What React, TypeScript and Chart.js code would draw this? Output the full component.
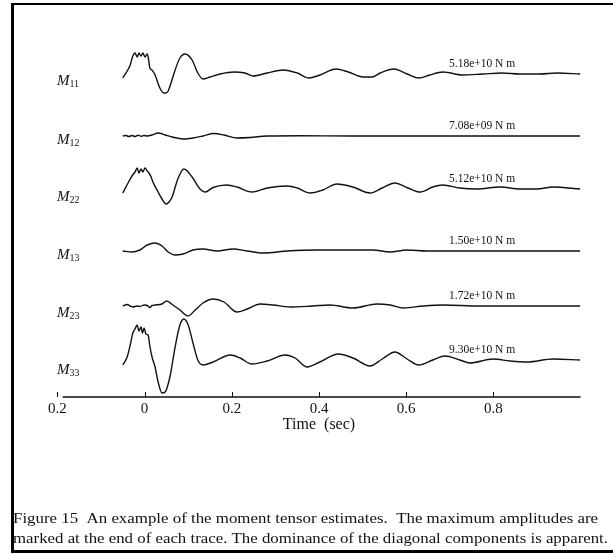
import React, { useEffect, useRef } from "react";
import { Chart, registerables } from "chart.js";

Chart.register(...registerables);

// ---------- data ----------
const componentNames = ["11", "12", "22", "13", "23", "33"];
const maxAmplitudes = [
  "5.18e+10 N m",
  "7.08e+09 N m",
  "5.12e+10 N m",
  "1.50e+10 N m",
  "1.72e+10 N m",
  "9.30e+10 N m",
];
const tickValues = [-0.2, 0, 0.2, 0.4, 0.6, 0.8];
const tickLabels = ["0.2", "0", "0.2", "0.4", "0.6", "0.8"];

// normalised trace amplitudes (upward positive)
const m11Time = [-0.05, -0.04, -0.033, -0.027, -0.022, -0.017, -0.013, -0.008, -0.004, 0.001, 0.006, 0.009, 0.012, 0.017, 0.024, 0.035, 0.044, 0.049, 0.054, 0.07, 0.081, 0.093, 0.109, 0.122, 0.134, 0.15, 0.173, 0.205, 0.23, 0.249, 0.281, 0.318, 0.35, 0.377, 0.402, 0.439, 0.467, 0.501, 0.522, 0.54, 0.572, 0.602, 0.629, 0.654, 0.684, 0.73, 0.776, 0.819, 0.861, 0.906, 0.946, 0.999];
const m11Value = [-4, 3, 9, 18, 21, 17, 21, 18, 21, 17, 20, 15, 6, 4, -1, -14, -19, -19, -17, 4, 16, 20, 14, 1, -5, -3, 0, 2, 1, -2, 1, 4, 1, -4, -1, 5, 2, -3, -3, 1, 5, 0, -4, -1, 2, -1, 0, 1, 0, 0, 1, 0];

const m12Time = [-0.05, -0.043, -0.036, -0.029, -0.022, -0.015, -0.008, -0.001, 0.006, 0.017, 0.031, 0.047, 0.063, 0.088, 0.111, 0.134, 0.159, 0.182, 0.212, 0.242, 0.281, 0.356, 0.471, 0.586, 0.701, 0.815, 0.999];
const m12Value = [0, 0.5, -0.5, 0.5, -0.5, 0.8, -0.3, 0.5, 0, 1, 3, 1, -1, -3, -2, 0, 2.5, 1, -2, -1.5, 0, 0.3, 0, 0, 0, 0, 0];

const m22Time = [-0.05, -0.038, -0.029, -0.022, -0.017, -0.013, -0.008, -0.004, 0.001, 0.006, 0.01, 0.015, 0.019, 0.031, 0.04, 0.049, 0.056, 0.063, 0.077, 0.09, 0.109, 0.127, 0.139, 0.157, 0.189, 0.212, 0.246, 0.281, 0.327, 0.35, 0.38, 0.409, 0.441, 0.478, 0.517, 0.545, 0.574, 0.604, 0.632, 0.661, 0.684, 0.723, 0.762, 0.815, 0.861, 0.9, 0.937, 0.999];
const m22Value = [-4, 6, 13, 17, 21, 16, 20, 17, 21, 18, 16, 12, 7, -3, -10, -15, -13, -8, 11, 20, 12, 0, -3, 1.5, 4, 2, -3, 1, 3, 1, -4, -1, 5, 2, -4, 1, 6, 1, -3, 2, 4, 1, 0, 2, 0, 0, 2, 0];

const m13Time = [-0.05, -0.029, -0.011, 0.006, 0.024, 0.04, 0.054, 0.07, 0.088, 0.111, 0.134, 0.166, 0.203, 0.235, 0.272, 0.327, 0.396, 0.471, 0.524, 0.563, 0.602, 0.648, 0.769, 0.884, 0.999];
const m13Value = [0, -1, 1, 6, 8, 5, -1, -4, -3, 1, 2, 0, 2, 0, -2, 0, 1, 1, 1, -1, 1, 0, 0, 0, 0];

const m23Time = [-0.05, -0.04, -0.033, -0.027, -0.017, -0.011, -0.001, 0.006, 0.012, 0.017, 0.024, 0.04, 0.051, 0.065, 0.081, 0.1, 0.116, 0.134, 0.157, 0.182, 0.212, 0.235, 0.265, 0.295, 0.333, 0.386, 0.425, 0.478, 0.533, 0.563, 0.593, 0.639, 0.684, 0.769, 0.884, 0.999];
const m23Value = [0, 1.5, 0, -1, 0, -0.5, 1, 0.5, -1.5, 0.5, 1, 2, 5, 1, -4, -10, -4, 3, 7, 4, -6, -3, 2, 1, -1, 0, 1, -2, 2, 1, -2, 0, 1, 0, 0, 0];

const m33Time = [-0.05, -0.04, -0.033, -0.027, -0.022, -0.017, -0.013, -0.008, -0.005, -0.001, 0.003, 0.008, 0.012, 0.017, 0.024, 0.031, 0.04, 0.047, 0.058, 0.07, 0.081, 0.09, 0.1, 0.111, 0.122, 0.134, 0.157, 0.196, 0.219, 0.246, 0.281, 0.322, 0.345, 0.373, 0.402, 0.444, 0.478, 0.517, 0.545, 0.574, 0.602, 0.629, 0.661, 0.689, 0.723, 0.746, 0.799, 0.838, 0.877, 0.937, 0.999];
const m33Value = [-5, 3, 15, 27, 31, 35, 29, 33, 27, 32, 26, 25, 14, 3, -7, -22, -33, -32, -17, 13, 35, 41, 35, 17, 0, -5, -2, 5, 2, -4, -1, 5, 2, -7, -2, 6, 2, -6, 1, 8, 1, -5, 0, 4, 0, -3, 1, -1, -2, 1, 0];

const traceTimes = [m11Time, m12Time, m22Time, m13Time, m23Time, m33Time];
const traceValues = [m11Value, m12Value, m22Value, m13Value, m23Value, m33Value];

// ---------- layout ----------
const W = 613;
const H = 554;
const AXIS_Y = 397;
const X_AXIS_H = 37.6;
const TRACE_ROWS = [74, 136, 189, 251, 306, 360];
const LABEL_ROWS = [85, 144, 201, 259, 317, 374];
const SERIF = '"Liberation Serif", "Times New Roman", serif';
const INK = "#111";
const CAPTION = [
  "Figure 15  An example of the moment tensor estimates.  The maximum amplitudes are",
  "marked at the end of each trace. The dominance of the diagonal components is apparent.",
];

const overlay = {
  id: "overlay",
  afterDraw(chart: any) {
    const { ctx, chartArea } = chart;
    const xs = chart.scales.x;
    const bottom = chartArea.bottom;
    ctx.save();
    ctx.strokeStyle = INK;
    ctx.lineWidth = 1.5;
    // axis line
    ctx.beginPath();
    ctx.moveTo(xs.getPixelForValue(-0.188), bottom);
    ctx.lineTo(xs.getPixelForValue(1.0), bottom);
    ctx.stroke();
    // upward ticks
    ctx.lineWidth = 1;
    tickValues.forEach((v) => {
      const px = Math.round(xs.getPixelForValue(v)) + 0.5;
      ctx.beginPath();
      ctx.moveTo(px, bottom);
      ctx.lineTo(px, bottom - 5);
      ctx.stroke();
    });
    ctx.fillStyle = INK;
    ctx.textBaseline = "alphabetic";
    // component labels
    componentNames.forEach((c, i) => {
      ctx.font = `italic 15px ${SERIF}`;
      ctx.textAlign = "left";
      const y = LABEL_ROWS[i];
      ctx.fillText("M", 57, y);
      const mw = ctx.measureText("M").width;
      ctx.font = `10px ${SERIF}`;
      ctx.fillText(c, 57 + mw, y + 2);
    });
    // amplitude labels
    ctx.font = `11.5px ${SERIF}`;
    maxAmplitudes.forEach((t, i) => {
      ctx.fillText(t, 449, TRACE_ROWS[i] - 7);
    });
    // caption
    ctx.font = `14px ${SERIF}`;
    const targets = [585, 595];
    const baselines = [523, 543];
    CAPTION.forEach((line, i) => {
      const w = ctx.measureText(line).width;
      ctx.save();
      ctx.translate(13, baselines[i]);
      ctx.scale(targets[i] / w, 1);
      ctx.fillText(line, 0, 0);
      ctx.restore();
    });
    ctx.restore();
  },
};

export default function App() {
  const ref = useRef<HTMLCanvasElement | null>(null);
  useEffect(() => {
    if (!ref.current) return;
    const datasets = traceTimes.map((times, i) => ({
      label: "M" + componentNames[i],
      data: times.map((t, j) => ({ x: t, y: TRACE_ROWS[i] - traceValues[i][j] })),
      borderColor: INK,
      borderWidth: 1.4,
      pointRadius: 0,
      fill: false,
      cubicInterpolationMode: "monotone" as const,
    }));
    const chart = new Chart(ref.current, {
      type: "line",
      data: { datasets },
      options: {
        animation: false,
        responsive: false,
        devicePixelRatio: 1,
        events: [],
        layout: {
          padding: { left: 57.4, right: 32.4, top: 0, bottom: H - AXIS_Y - X_AXIS_H },
        },
        plugins: { legend: { display: false }, tooltip: { enabled: false } },
        scales: {
          x: {
            type: "linear",
            min: -0.2,
            max: 1.0,
            grid: { display: false, drawTicks: false },
            border: { display: false },
            afterBuildTicks: (s: any) => {
              s.ticks = tickValues.map((v) => ({ value: v }));
            },
            afterFit: (s: any) => {
              s.height = X_AXIS_H;
            },
            ticks: {
              padding: 3,
              autoSkip: false,
              maxRotation: 0,
              color: INK,
              font: { family: SERIF, size: 15 },
              callback: (_v: any, i: number) => tickLabels[i],
            },
            title: {
              display: true,
              text: "Time  (sec)",
              color: INK,
              font: { family: SERIF, size: 16 },
              padding: { top: 0, bottom: 0 },
            },
          },
          y: { type: "linear", display: false, reverse: true, min: 0, max: AXIS_Y },
        },
      },
      plugins: [overlay],
    });
    return () => chart.destroy();
  }, []);
  return (
    <div style={{ position: "absolute", left: 0, top: 0, width: W, height: H, background: "#fff" }}>
      <canvas ref={ref} width={W} height={H} style={{ position: "absolute", left: 0, top: 0, width: W, height: H }} />
      <div
        style={{
          position: "absolute",
          left: 11,
          top: 3,
          width: W - 11,
          height: 550,
          boxSizing: "border-box",
          borderLeft: "3px solid #000",
          borderTop: "2px solid #000",
          borderBottom: "3px solid #000",
          pointerEvents: "none",
        }}
      />
    </div>
  );
}
